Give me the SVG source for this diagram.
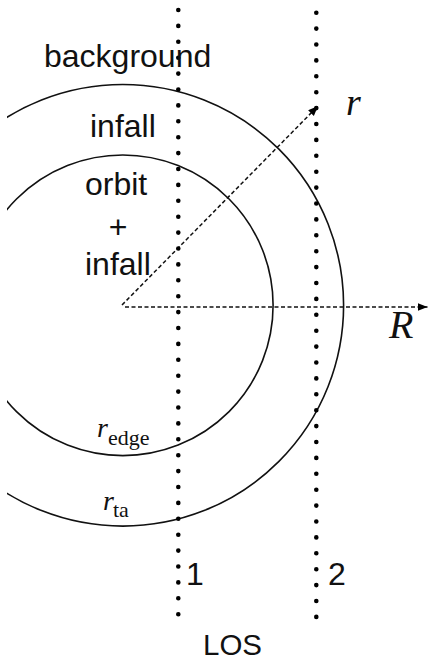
<svg xmlns="http://www.w3.org/2000/svg" width="428" height="661" viewBox="0 0 428 661">
  <style>
    .sans { font-family: "Liberation Sans", Arial, sans-serif; font-size: 32px; fill: #111; }
    .ital { font-family: "Liberation Serif", "Times New Roman", serif; font-style: italic; fill: #111; }
    .sub { font-family: "Liberation Serif", "Times New Roman", serif; font-size: 22px; fill: #111; }
    .ring { fill: none; stroke: #111; stroke-width: 1.6; }
    .dots { fill: none; stroke: #000; stroke-width: 4.6; stroke-linecap: round; stroke-dasharray: 0 15.9; }
    .dash { fill: none; stroke: #111; stroke-width: 1.5; stroke-dasharray: 4 2.5; }
  </style>
  <defs>
    <clipPath id="clipL">
      <rect x="7" y="0" width="421" height="661"/>
    </clipPath>
    <marker id="arrow" markerUnits="userSpaceOnUse" markerWidth="11" markerHeight="9" refX="10" refY="4" orient="auto">
      <path d="M0,0 L10,4 L0,8 z" fill="#000"/>
    </marker>
  </defs>
  <rect width="428" height="661" fill="#fff"/>

  <g id="ring-ta" clip-path="url(#clipL)">
    <circle class="ring" cx="122.8" cy="305.3" r="220.8"/>
  </g>
  <g id="ring-edge" clip-path="url(#clipL)">
    <circle class="ring" cx="122.8" cy="305.3" r="150.3"/>
  </g>

  <g id="connectors">
    <line class="dash" x1="125" y1="307" x2="427.5" y2="307" marker-end="url(#arrow)"/>
    <line class="dash" x1="122" y1="305" x2="318" y2="106" marker-end="url(#arrow)"/>
  </g>

  <g id="los1">
    <line class="dots" x1="178.3" y1="10" x2="178.3" y2="614.7"/>
    <text class="sans" x="186" y="585">1</text>
  </g>
  <g id="los2">
    <line class="dots" x1="316.3" y1="12.7" x2="316.3" y2="617.4"/>
    <text class="sans" x="328" y="585">2</text>
  </g>
  <g id="los-label">
    <text class="sans" x="203" y="655" font-size="30" style="font-size:30px" textLength="59" lengthAdjust="spacingAndGlyphs">LOS</text>
  </g>

  <g id="region-background">
    <text class="sans" x="44" y="67">background</text>
  </g>
  <g id="region-infall">
    <text class="sans" x="90" y="137">infall</text>
  </g>
  <g id="region-orbit-infall">
    <text class="sans" x="85" y="195">orbit</text>
    <text class="sans" x="118" y="238" text-anchor="middle">+</text>
    <text class="sans" x="85" y="275">infall</text>
  </g>

  <g id="label-r">
    <text class="ital" x="346" y="115" font-size="38">r</text>
  </g>
  <g id="label-R">
    <text class="ital" x="389" y="338" font-size="40">R</text>
  </g>
  <g id="label-redge">
    <text class="ital" x="97" y="437" font-size="28">r</text>
    <text class="sub" x="108" y="445">edge</text>
  </g>
  <g id="label-rta">
    <text class="ital" x="103" y="510" font-size="28">r</text>
    <text class="sub" x="113" y="517">ta</text>
  </g>
</svg>
